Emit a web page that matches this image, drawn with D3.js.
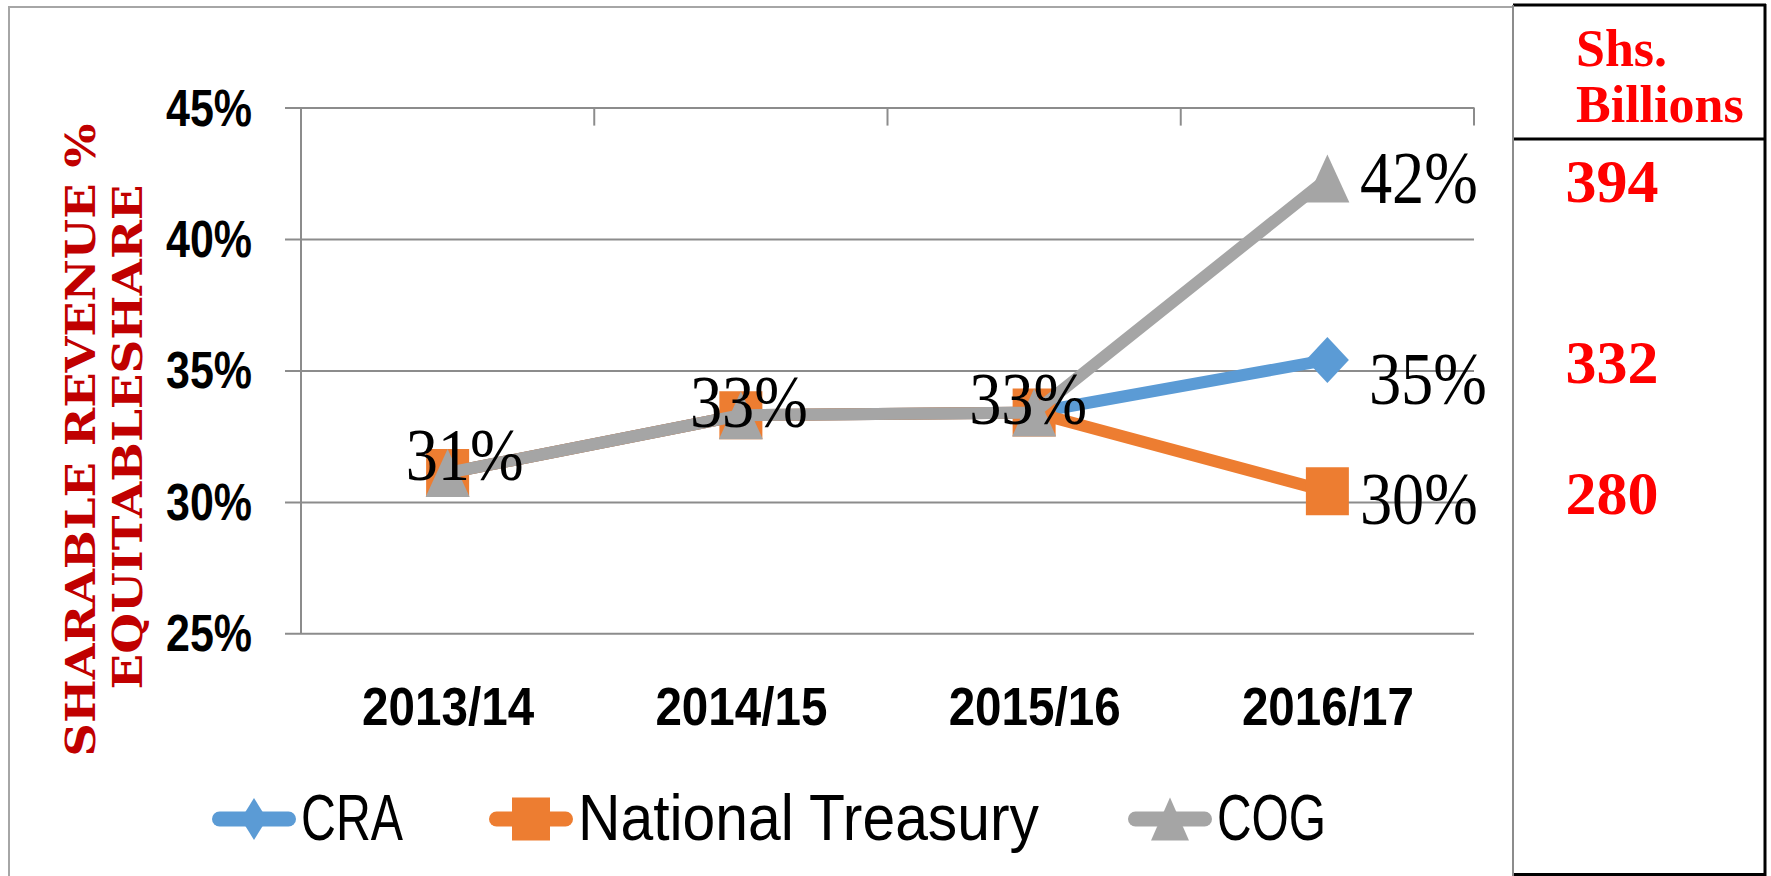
<!DOCTYPE html>
<html>
<head>
<meta charset="utf-8">
<script src="https://cdn.jsdelivr.net/npm/d3@7"></script>
<style>
  body { margin: 0; background: #fff; }
  svg { display: block; }
</style>
</head>
<body>
<div class="canvas"></div>
<script>
// data
const categories = ['2013/14', '2014/15', '2015/16', '2016/17']
const seriesNames = ['CRA', 'National Treasury', 'COG']
const craValues = [31.1, 33.3, 33.4, 35.4]
const treasuryValues = [31.1, 33.3, 33.4, 30.4]
const cogValues = [31.1, 33.3, 33.4, 42.3]
const yTicks = [25, 30, 35, 40, 45]
const shsBillions = [332, 280, 394] // same order as seriesNames
const yTitleLines = ['SHARABLE REVENUE %', 'EQUITABLESHARE']
const boxHeader = ['Shs.', 'Billions']

const dims = { width: 1771, height: 876 }
const plot = { left: 301, right: 1474, top: 107.6, bottom: 633.3 }

const svg = d3.select('.canvas')
  .append('svg')
  .attr('width', dims.width)
  .attr('height', dims.height)

svg.append('rect')
  .attr('width', dims.width)
  .attr('height', dims.height)
  .attr('fill', '#fff')

// chart border (gray) and the billions box (black)
svg.append('rect')
  .attr('x', 9).attr('y', 7)
  .attr('width', 1504).attr('height', 900)
  .attr('fill', 'none')
  .attr('stroke', '#a6a6a6')
  .attr('stroke-width', 2)

const box = svg.append('g')
  .attr('stroke', '#000')
  .attr('stroke-width', 3)
box.append('line').attr('x1', 1513).attr('x2', 1766).attr('y1', 5).attr('y2', 5)
box.append('line').attr('x1', 1513).attr('x2', 1766).attr('y1', 139).attr('y2', 139)
box.append('line').attr('x1', 1765).attr('x2', 1765).attr('y1', 4).attr('y2', 876)
box.append('line').attr('x1', 1513).attr('x2', 1766).attr('y1', 874.5).attr('y2', 874.5)
svg.append('line')
  .attr('x1', 1513).attr('x2', 1513).attr('y1', 5).attr('y2', 876)
  .attr('stroke', '#8c8c8c').attr('stroke-width', 2)

// scales
const x = d3.scalePoint()
  .domain(categories)
  .range([plot.left, plot.right])
  .padding(0.5)

const y = d3.scaleLinear()
  .domain([25, 45])
  .range([plot.bottom, plot.top])

const color = d3.scaleOrdinal()
  .domain(seriesNames)
  .range(['#5b9bd5', '#ed7d31', '#a5a5a5'])

const series = [craValues, treasuryValues, cogValues].map((values, i) => ({
  name: seriesNames[i],
  values,
  billions: shsBillions[i]
}))

// y axis with gridlines
const yAxisG = svg.append('g')
  .attr('transform', `translate(${plot.left}, 0)`)
  .call(d3.axisLeft(y).tickValues(yTicks).tickSize(0).tickFormat(d => d + '%'))

yAxisG.select('.domain').remove()
yAxisG.selectAll('.tick line')
  .attr('x1', -16)
  .attr('x2', plot.right - plot.left)
  .attr('stroke', '#8c8c8c')
  .attr('stroke-width', 2)
yAxisG.selectAll('.tick text')
  .attr('x', -135)
  .attr('y', 17.5)
  .attr('dy', null)
  .attr('text-anchor', 'start')
  .attr('fill', '#000')
  .attr('font-family', '"Liberation Sans", Arial, sans-serif')
  .attr('font-weight', 'bold')
  .attr('font-size', 52)
  .attr('textLength', 86)
  .attr('lengthAdjust', 'spacingAndGlyphs')

svg.append('line')
  .attr('x1', plot.left).attr('x2', plot.left)
  .attr('y1', plot.top).attr('y2', plot.bottom)
  .attr('stroke', '#8c8c8c')
  .attr('stroke-width', 2)

// category boundary ticks hang from the top gridline
svg.selectAll('.cat-tick')
  .data(categories)
  .enter()
  .append('line')
    .attr('class', 'cat-tick')
    .attr('x1', d => x(d) + x.step() / 2)
    .attr('x2', d => x(d) + x.step() / 2)
    .attr('y1', plot.top)
    .attr('y2', plot.top + 18)
    .attr('stroke', '#8c8c8c')
    .attr('stroke-width', 2)

// x axis labels
const xAxisG = svg.append('g')
  .attr('transform', `translate(0, ${plot.bottom})`)
  .call(d3.axisBottom(x).tickSize(0))

xAxisG.select('.domain').remove()
xAxisG.selectAll('.tick text')
  .attr('x', -86)
  .attr('y', 91.7)
  .attr('dy', null)
  .attr('text-anchor', 'start')
  .attr('fill', '#000')
  .attr('font-family', '"Liberation Sans", Arial, sans-serif')
  .attr('font-weight', 'bold')
  .attr('font-size', 53)
  .attr('textLength', 172)
  .attr('lengthAdjust', 'spacingAndGlyphs')

// y axis title, two rotated lines
const titleLayout = [
  { base: 95, mid: 440, length: 633 },
  { base: 141.7, mid: 437, length: 505 }
]
svg.selectAll('.y-title')
  .data(yTitleLines)
  .enter()
  .append('text')
    .attr('class', 'y-title')
    .attr('transform', (d, i) => `translate(${titleLayout[i].base}, ${titleLayout[i].mid}) rotate(-90)`)
    .attr('x', (d, i) => -titleLayout[i].length / 2)
    .attr('fill', '#c00000')
    .attr('font-family', '"DejaVu Serif", "Liberation Serif", serif')
    .attr('font-weight', 'bold')
    .attr('font-size', 41)
    .attr('textLength', (d, i) => titleLayout[i].length)
    .attr('lengthAdjust', 'spacingAndGlyphs')
    .text(d => d)

// markers
const markerPath = {
  'CRA': 'M0,-23L21.5,0L0,23L-21.5,0Z',
  'National Treasury': 'M-21.5,-24H21.5V24H-21.5Z',
  'COG': 'M0,-24L22,24L-22,24Z'
}
const legendMarkerPath = {
  'CRA': 'M0,-21L13,0L0,21L-13,0Z',
  'National Treasury': 'M-19,-21.5H19V21.5H-19Z',
  'COG': 'M0,-21.5L19,21.5L-19,21.5Z'
}

const line = d3.line()
  .x((d, i) => x(categories[i]))
  .y(d => y(d))

const seriesG = svg.selectAll('.series')
  .data(series)
  .enter()
  .append('g')
    .attr('class', 'series')

seriesG.append('path')
  .attr('fill', 'none')
  .attr('stroke', d => color(d.name))
  .attr('stroke-width', 12)
  .attr('stroke-linejoin', 'round')
  .attr('d', d => line(d.values))

seriesG.selectAll('.marker')
  .data(d => d.values.map((v, i) => ({ name: d.name, v, i })))
  .enter()
  .append('path')
    .attr('class', 'marker')
    .attr('transform', d => `translate(${x(categories[d.i])}, ${y(d.v)})`)
    .attr('fill', d => color(d.name))
    .attr('d', d => markerPath[d.name])

// data labels: shared points labelled once, last point labelled per series
const centerNudge = [[17, 7], [8, 12], [-6, 11]]
const rightNudge = { 'CRA': [41.5, 44], 'National Treasury': [32.5, 33], 'COG': [32.5, 24] }
const labelWidth = 118
const last = categories.length - 1

const labelData = cogValues.slice(0, last)
  .map((v, i) => ({ v, i, lx: x(categories[i]) + centerNudge[i][0] - labelWidth / 2, ly: y(v) + centerNudge[i][1] }))
  .concat(series.map(s => ({
    v: s.values[last],
    i: last,
    lx: x(categories[last]) + rightNudge[s.name][0],
    ly: y(s.values[last]) + rightNudge[s.name][1]
  })))

svg.selectAll('.data-label')
  .data(labelData)
  .enter()
  .append('text')
    .attr('class', 'data-label')
    .attr('x', d => d.lx)
    .attr('y', d => d.ly)
    .attr('fill', '#000')
    .attr('font-family', '"Liberation Serif", "Times New Roman", serif')
    .attr('font-size', 75)
    .attr('textLength', labelWidth)
    .attr('lengthAdjust', 'spacingAndGlyphs')
    .text(d => Math.round(d.v) + '%')

// billions box
svg.selectAll('.box-header')
  .data(boxHeader)
  .enter()
  .append('text')
    .attr('class', 'box-header')
    .attr('x', 1576)
    .attr('y', (d, i) => 66 + i * 55.5)
    .attr('fill', '#ff0000')
    .attr('font-family', '"Liberation Serif", "Times New Roman", serif')
    .attr('font-weight', 'bold')
    .attr('font-size', 52)
    .text(d => d)

svg.selectAll('.box-value')
  .data(series)
  .enter()
  .append('text')
    .attr('class', 'box-value')
    .attr('x', 1612)
    .attr('y', d => y(d.values[last]) + 23)
    .attr('text-anchor', 'middle')
    .attr('fill', '#ff0000')
    .attr('font-family', '"Liberation Serif", "Times New Roman", serif')
    .attr('font-weight', 'bold')
    .attr('font-size', 62)
    .text(d => d.billions)

// legend
const legendX = [212, 489, 1128]
const legendTextWidth = [102, 461, 109]
const legendY = 819

const legendItems = svg.selectAll('.legend-item')
  .data(series)
  .enter()
  .append('g')
    .attr('class', 'legend-item')
    .attr('transform', (d, i) => `translate(${legendX[i]}, ${legendY})`)

legendItems.append('line')
  .attr('x1', 7.5)
  .attr('x2', 76.5)
  .attr('stroke', d => color(d.name))
  .attr('stroke-width', 15)
  .attr('stroke-linecap', 'round')

legendItems.append('path')
  .attr('transform', 'translate(42, 0)')
  .attr('fill', d => color(d.name))
  .attr('d', d => legendMarkerPath[d.name])

legendItems.append('text')
  .attr('x', 89)
  .attr('y', 21)
  .attr('fill', '#000')
  .attr('font-family', '"Liberation Sans", Arial, sans-serif')
  .attr('font-size', 64)
  .attr('textLength', (d, i) => legendTextWidth[i])
  .attr('lengthAdjust', 'spacingAndGlyphs')
  .text(d => d.name)
</script>
</body>
</html>
